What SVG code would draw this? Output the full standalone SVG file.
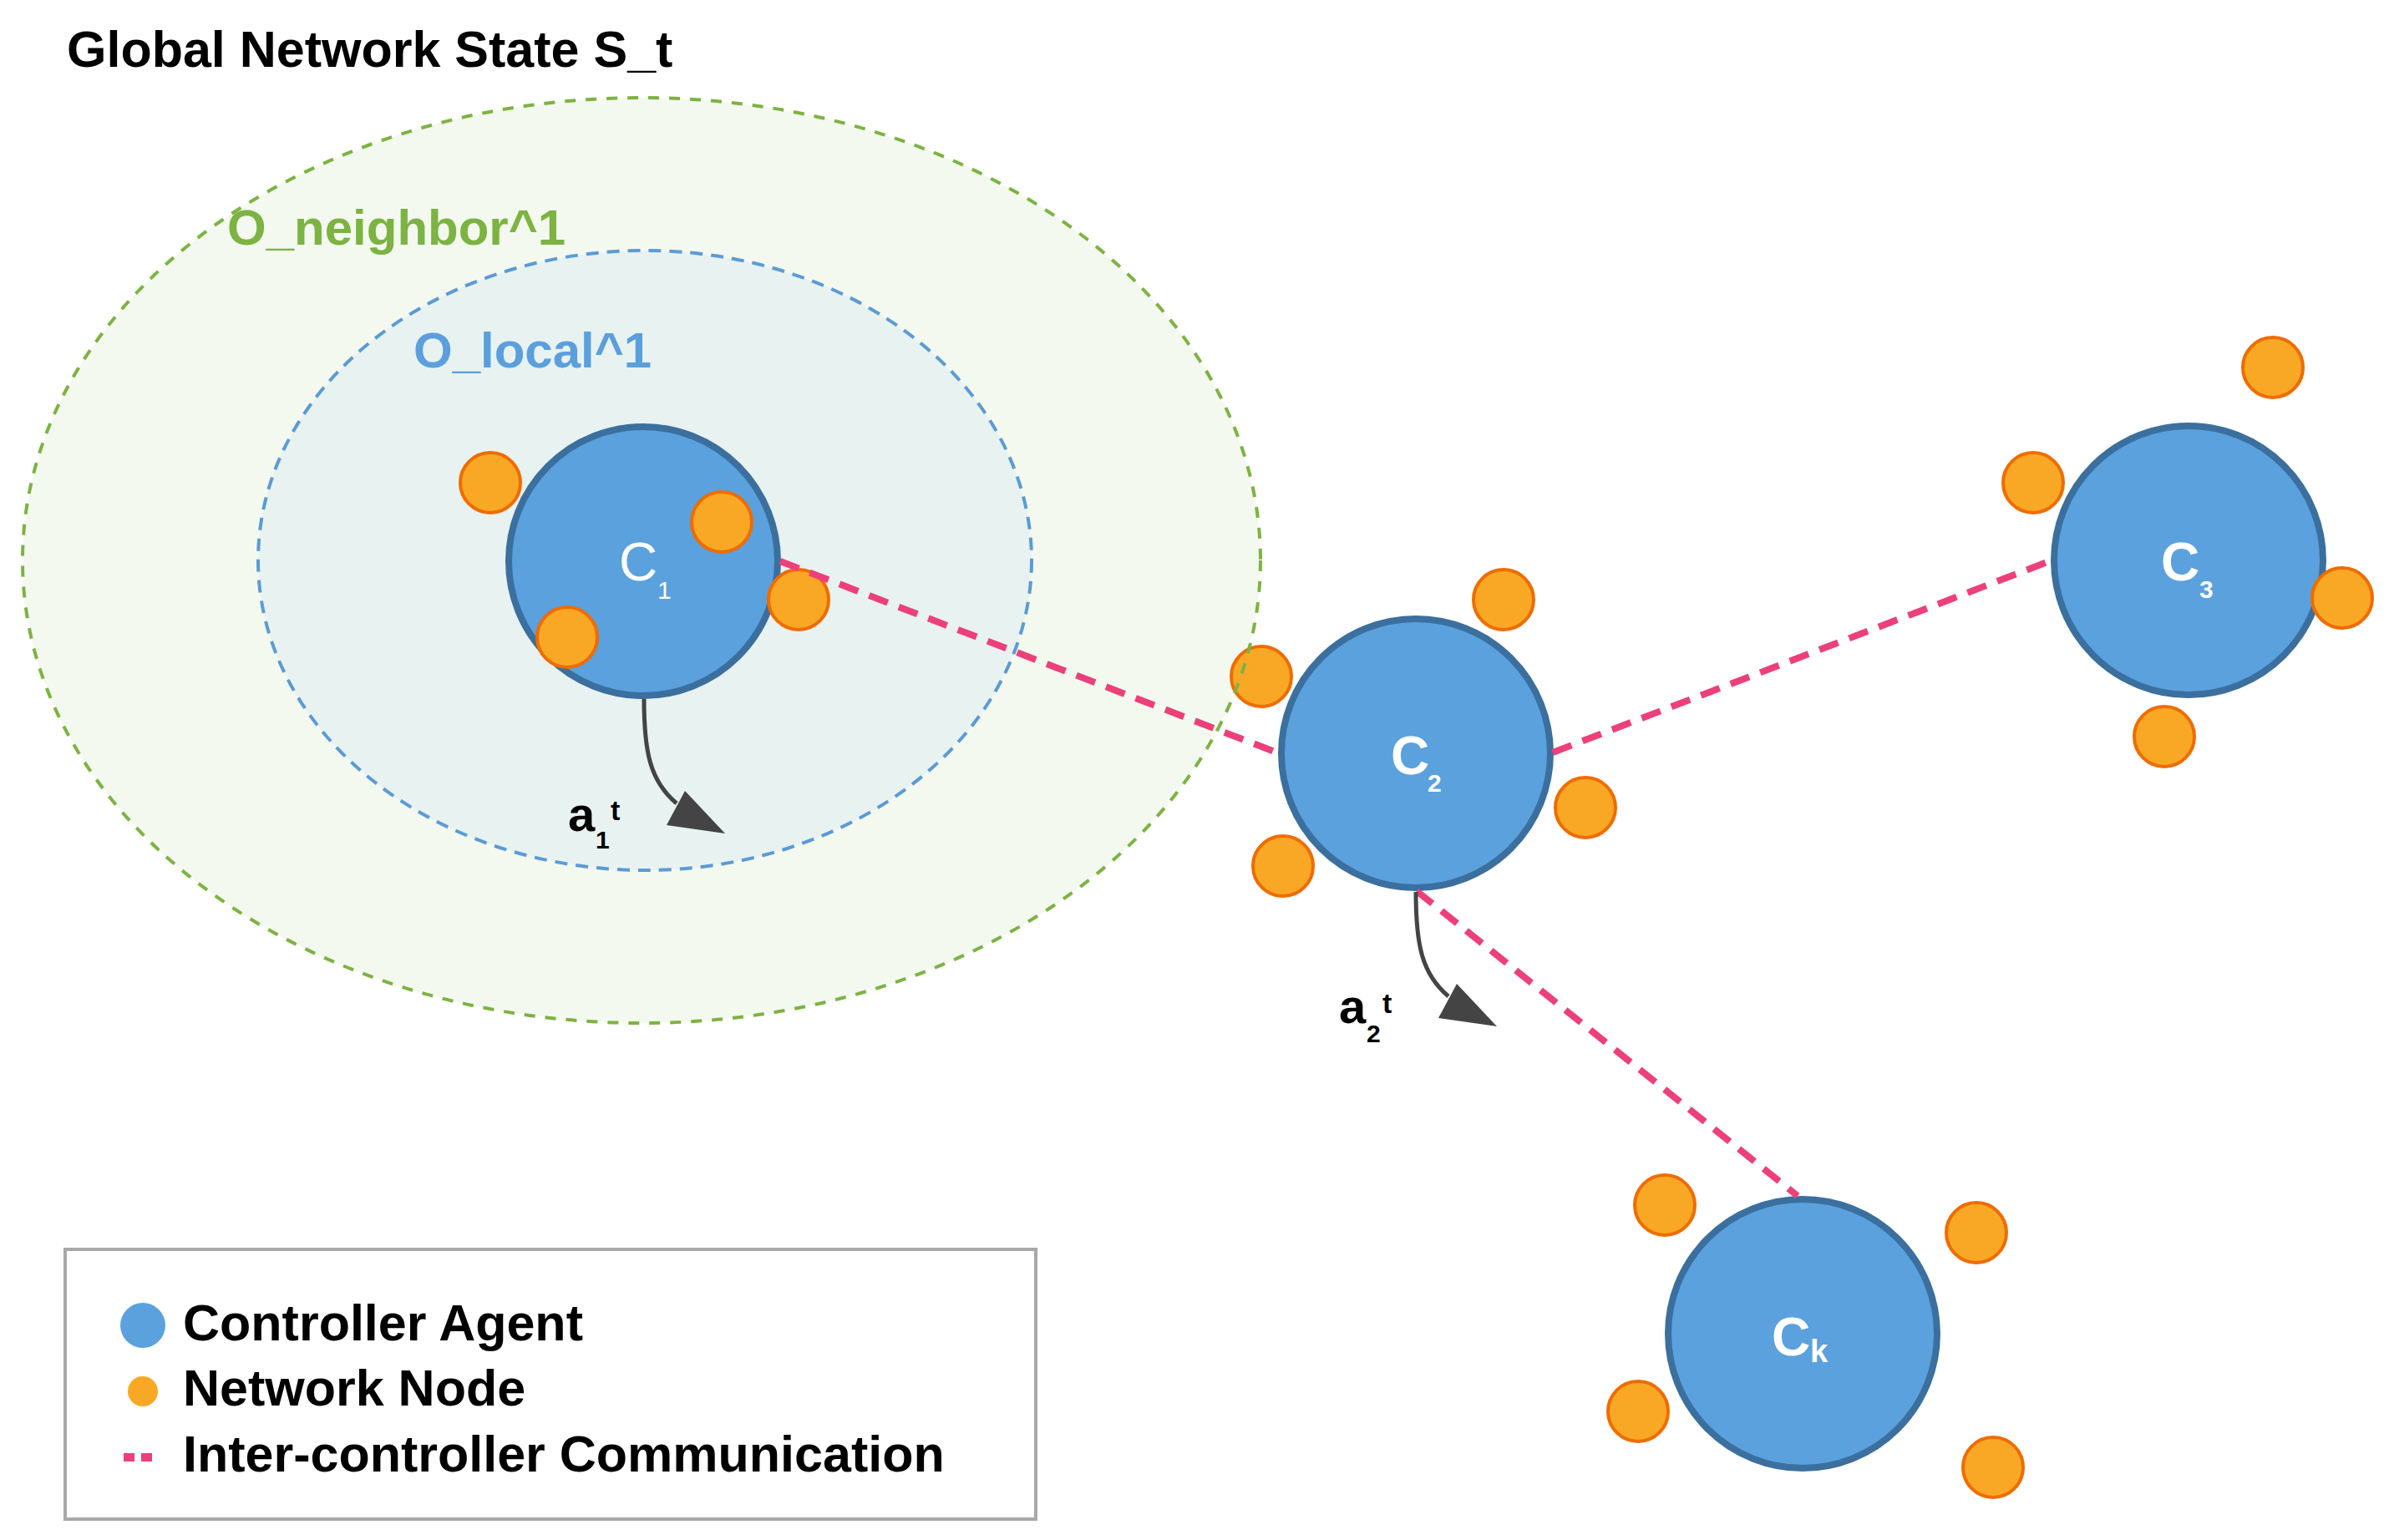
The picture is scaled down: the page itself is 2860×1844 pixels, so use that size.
<svg xmlns="http://www.w3.org/2000/svg" xmlns:xlink="http://www.w3.org/1999/xlink" width="2860" height="1844" viewBox="0 0 2860 1844">
  <style>
    text { font-family: "Liberation Sans", Arial, sans-serif; font-weight: bold; }
    .ctrl { fill: #5aa1de; stroke: #3b6f9e; stroke-width: 8; }
    .nn { fill: #f9a825; stroke: #ef6c00; stroke-width: 4; }
    .clabel { fill: #ffffff; font-size: 64px; }
    .csub { fill: #ffffff; font-size: 30px; }
    .comm { stroke: #ec407a; stroke-width: 8; stroke-dasharray: 24 14; fill: none; }
    .act { stroke: #444444; stroke-width: 5; fill: none; }
    .ahead { fill: #444444; }
    .alabel { fill: #000000; font-size: 58px; }
    .asmall { fill: #000000; font-size: 30px; }
    .legtext { fill: #000000; font-size: 61px; }
  </style>
  <defs>
    <path id="arrowhead" d="M 0 0 L -48 -51 L -70 -10 Z"/>
  </defs>
  <rect x="0" y="0" width="2860" height="1844" fill="#ffffff"/>

  <!-- observation regions (fills) -->
  <g id="regions-fill">
    <ellipse cx="768" cy="671" rx="741" ry="554" fill="#f4f9f0"/>
    <ellipse cx="772" cy="671" rx="463" ry="371" fill="#e8f2f1"/>
  </g>

  <text x="80" y="80" font-size="61" fill="#000000">Global Network State S_t</text>

  <!-- nodes -->
  <g id="controller-c1">
    <circle class="ctrl" cx="770" cy="672" r="161"/>
    <circle class="nn" cx="587" cy="578" r="36"/>
    <circle class="nn" cx="864" cy="625" r="36"/>
    <circle class="nn" cx="679" cy="763" r="36"/>
    <circle class="nn" cx="956" cy="718" r="36"/>
    <text class="clabel" x="741" y="695" style="font-weight:normal" fill="#eef3f7">C</text>
    <text class="csub" x="787" y="717" style="font-weight:normal">1</text>
  </g>
  <g id="controller-c2">
    <circle class="ctrl" cx="1695" cy="902" r="161"/>
    <circle class="nn" cx="1800" cy="718" r="36"/>
    <circle class="nn" cx="1510" cy="810" r="36"/>
    <circle class="nn" cx="1536" cy="1037" r="36"/>
    <circle class="nn" cx="1898" cy="967" r="36"/>
    <text class="clabel" x="1665" y="927">C</text>
    <text class="csub" x="1709" y="948">2</text>
  </g>
  <g id="controller-c3">
    <circle class="ctrl" cx="2620" cy="671" r="161"/>
    <circle class="nn" cx="2721" cy="440" r="36"/>
    <circle class="nn" cx="2434" cy="578" r="36"/>
    <circle class="nn" cx="2804" cy="716" r="36"/>
    <circle class="nn" cx="2591" cy="882" r="36"/>
    <text class="clabel" x="2587" y="695">C</text>
    <text class="csub" x="2633" y="716">3</text>
  </g>
  <g id="controller-ck">
    <circle class="ctrl" cx="2158" cy="1597" r="161"/>
    <circle class="nn" cx="1993" cy="1443" r="36"/>
    <circle class="nn" cx="2366" cy="1476" r="36"/>
    <circle class="nn" cx="1961" cy="1690" r="36"/>
    <circle class="nn" cx="2386" cy="1757" r="36"/>
    <text class="clabel" x="2121" y="1623">C</text>
    <text class="csub" x="2167" y="1631" style="font-size:38px">k</text>
  </g>

  <!-- connectors -->
  <g id="connectors">
    <line class="comm" x1="934" y1="672" x2="1531" y2="902"/>
    <line class="comm" x1="1859" y1="901" x2="2456" y2="671"/>
    <line class="comm" x1="1696" y1="1067" x2="2152" y2="1432"/>
    <path class="act" d="M 771 837 C 771 900, 778 935, 810 962"/>
    <use href="#arrowhead" xlink:href="#arrowhead" class="ahead" transform="translate(868,998)"/>
    <path class="act" d="M 1695 1068 C 1695 1131, 1702 1166, 1734 1193"/>
    <use href="#arrowhead" xlink:href="#arrowhead" class="ahead" transform="translate(1792,1229)"/>
  </g>

  <!-- observation region outlines -->
  <g id="regions-outline" fill="none">
    <ellipse cx="768" cy="671" rx="741" ry="554" stroke="#7cb342" stroke-width="4" stroke-dasharray="13 12"/>
    <ellipse cx="772" cy="671" rx="463" ry="371" stroke="#5b9bd5" stroke-width="4" stroke-dasharray="15 10"/>
    <text x="272" y="293" font-size="60" fill="#7cb342">O_neighbor^1</text>
    <text x="495" y="440" font-size="60" fill="#5b9fdc">O_local^1</text>
  </g>

  <g id="action-labels">
    <text class="alabel" x="680" y="995">a</text>
    <text class="asmall" x="713" y="1016">1</text>
    <text class="asmall" x="731" y="982" style="font-size:34px">t</text>
    <text class="alabel" x="1603" y="1225">a</text>
    <text class="asmall" x="1636" y="1248">2</text>
    <text class="asmall" x="1655" y="1213" style="font-size:34px">t</text>
  </g>

  <!-- legend -->
  <g id="legend">
    <rect x="78" y="1496" width="1162" height="323" fill="#ffffff" stroke="#a8a8a8" stroke-width="4"/>
    <circle cx="171" cy="1587" r="27" fill="#5aa1de"/>
    <circle cx="171" cy="1666" r="18" fill="#f9a825"/>
    <line x1="148" y1="1745" x2="184" y2="1745" stroke="#ec407a" stroke-width="10" stroke-dasharray="13 8"/>
    <text class="legtext" x="219" y="1605">Controller Agent</text>
    <text class="legtext" x="219" y="1683">Network Node</text>
    <text class="legtext" x="219" y="1762">Inter-controller Communication</text>
  </g>
</svg>
